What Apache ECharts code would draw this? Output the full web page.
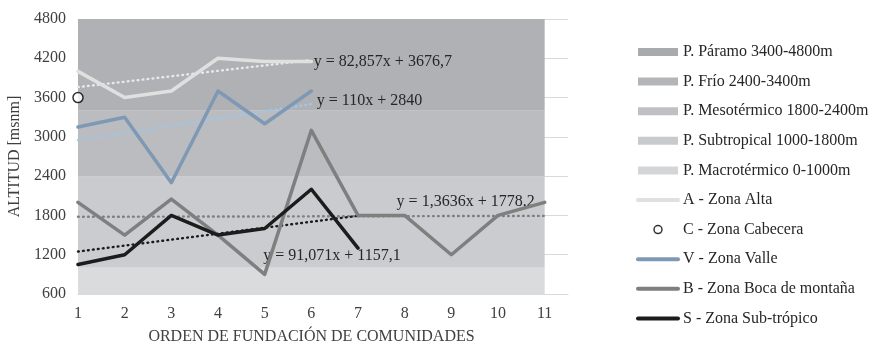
<!DOCTYPE html>
<html>
<head>
<meta charset="utf-8">
<script src="https://cdn.jsdelivr.net/npm/echarts@6/dist/echarts.min.js"></script>
<style>
  html, body { margin: 0; padding: 0; background: #ffffff; }
  #chart { width: 872px; height: 345px; }
</style>
</head>
<body>
<div id="chart"></div>
<script>
// Founding order of communities (x) vs altitude in m a.s.l. (y)
const orden = [1, 2, 3, 4, 5, 6, 7, 8, 9, 10, 11];

// Altitude of each community, by zone
const zonaAlta     = [4000, 3600, 3700, 4200, 4150, 4150];
const zonaCabecera = [3600];
const zonaValle    = [3150, 3300, 2300, 3700, 3200, 3700];
const zonaBoca     = [2000, 1500, 2050, 1500, 900, 3100, 1800, 1800, 1200, 1800, 2000];
const zonaSub      = [1050, 1200, 1800, 1500, 1600, 2200, 1300];

// Linear trend coefficients (slope, intercept) for each zone
const trendSlopes     = [82.857, 110, 1.3636, 91.071];
const trendIntercepts = [3676.7, 2840, 1778.2, 1157.1];

// Altitudinal floors (thermal belts)
const pisoNames = ['P. Páramo 3400-4800m', 'P. Frío 2400-3400m', 'P. Mesotérmico 1800-2400m',
                   'P. Subtropical 1000-1800m', 'P. Macrotérmico 0-1000m'];
const pisoLow   = [3400, 2400, 1800, 1000, 0];
const pisoHigh  = [4800, 3400, 2400, 1800, 1000];

const zoneNames = ['A - Zona Alta', 'C - Zona Cabecera', 'V - Zona Valle',
                   'B - Zona Boca de montaña', 'S - Zona Sub-trópico'];

// Y axis ticks
const yTicks = [600, 1200, 1800, 2400, 3000, 3600, 4200, 4800];

const FONT = '"Liberation Serif", "DejaVu Serif", serif';
const Y_MIN = yTicks[0], Y_MAX = yTicks[yTicks.length - 1];
const pisoColors = ['#b0b1b4', '#bbbcbf', '#cacbce', '#cbcccf', '#dadbdd'];
const pisoLegendColors = ['#a9aaad', '#b4b5b8', '#bfc0c3', '#c9cacc', '#d4d5d7'];

const toXY = (vals) => vals.map((v, i) => [orden[i], v]);
const fmt = (n) => String(n).replace('.', ',');
const eqText = (k) => 'y = ' + fmt(trendSlopes[k]) + 'x + ' + fmt(trendIntercepts[k]);
const trendLine = (k, x0, x1) => [
  [x0, trendSlopes[k] * x0 + trendIntercepts[k]],
  [x1, trendSlopes[k] * x1 + trendIntercepts[k]]
];

const series = [];

// Background belts drawn as mark areas spanning the community range
pisoNames.forEach((name, i) => {
  series.push({
    name: name,
    type: 'line',
    data: [],
    symbol: 'none',
    z: 1,
    itemStyle: { color: pisoLegendColors[i] },
    lineStyle: { width: 0 },
    markArea: {
      silent: true,
      itemStyle: { color: pisoColors[i], opacity: 1 },
      data: [[
        { xAxis: orden[0], yAxis: Math.max(pisoLow[i], Y_MIN) },
        { xAxis: orden[orden.length - 1], yAxis: pisoHigh[i] }
      ]]
    }
  });
});

// Trend lines (dotted) with their equations
const trendDefs = [
  { k: 0, x1: zonaAlta.length,  color: '#e9e9e9',
    label: { distance: 2.5, offset: [0, 1.5] } },
  { k: 1, x1: zonaValle.length, color: '#9fc6e8',
    label: { distance: 5.5, offset: [0, -3] } },
  { k: 2, x1: zonaBoca.length,  color: '#808080',
    label: { distance: 0, align: 'right', offset: [-10, -14] } },
  { k: 3, x1: zonaSub.length,   color: '#1a1a1a',
    label: { distance: 0, align: 'center', offset: [-26, 40] } }
];
trendDefs.forEach((t) => {
  series.push({
    name: 'trend' + t.k,
    type: 'line',
    data: trendLine(t.k, 1, t.x1),
    symbol: 'none',
    z: 3,
    silent: true,
    lineStyle: { color: t.color, width: 2.4, type: [0.8, 4.2], cap: 'round' },
    endLabel: Object.assign({
      show: true,
      formatter: () => eqText(t.k),
      color: '#262626',
      fontFamily: FONT,
      fontSize: 16
    }, t.label)
  });
});

// Zone series
const lineZone = (name, vals, color) => ({
  name: name,
  type: 'line',
  data: toXY(vals),
  symbol: 'none',
  z: 4,
  itemStyle: { color: color },
  lineStyle: { color: color, width: 3.5, cap: 'round', join: 'round' }
});
series.push(lineZone(zoneNames[0], zonaAlta, '#e0e0e0'));
series.push({
  name: zoneNames[1],
  type: 'scatter',
  data: toXY(zonaCabecera),
  symbol: 'circle',
  symbolSize: 10,
  z: 6,
  itemStyle: { color: '#ffffff', borderColor: '#000000', borderWidth: 1.5 }
});
series.push(lineZone(zoneNames[2], zonaValle, '#7f98b4'));
series.push(lineZone(zoneNames[3], zonaBoca, '#7f7f7f'));
series.push(lineZone(zoneNames[4], zonaSub, '#1c1c1c'));

// Legend: plain swatches for belts, bare lines for zones
const lineLegend = (name) => ({
  name: name,
  itemStyle: { opacity: 0 },
  lineStyle: { width: 4, cap: 'round' }
});
const legendData = pisoNames.map((n) => ({ name: n, icon: 'rect' }))
  .concat([
    lineLegend(zoneNames[0]),
    { name: zoneNames[1], icon: 'circle',
      itemStyle: { color: '#ffffff', borderColor: '#000000', borderWidth: 1.5 } },
    lineLegend(zoneNames[2]),
    lineLegend(zoneNames[3]),
    lineLegend(zoneNames[4])
  ]);

const chart = echarts.init(document.getElementById('chart'), null, { renderer: 'canvas' });
chart.setOption({
  animation: false,
  backgroundColor: '#ffffff',
  grid: { left: 78, right: 304, top: 19, bottom: 51, outerBoundsMode: 'none', containLabel: false },
  legend: {
    orient: 'vertical',
    left: 631,
    top: 39,
    itemWidth: 40,
    itemHeight: 8,
    itemGap: 13.6,
    selectedMode: false,
    data: legendData,
    textStyle: { fontFamily: FONT, fontSize: 16, color: '#262626', lineHeight: 16 }
  },
  xAxis: {
    type: 'value',
    min: orden[0],
    max: 11.5,
    interval: 1,
    name: 'ORDEN DE FUNDACIÓN DE COMUNIDADES',
    nameLocation: 'middle',
    nameGap: 35,
    nameTextStyle: { fontFamily: FONT, fontSize: 16, color: '#404040', padding: [0, 23, 0, 0] },
    axisLine: { show: true, lineStyle: { color: '#d9d9d9', width: 1 } },
    axisTick: { show: false },
    splitLine: { show: false },
    axisLabel: {
      margin: 12,
      fontFamily: FONT, fontSize: 16, color: '#404040',
      formatter: (v) => (orden.indexOf(v) >= 0 ? String(v) : '')
    }
  },
  yAxis: {
    type: 'value',
    min: Y_MIN,
    max: Y_MAX,
    interval: 600,
    name: 'ALTITUD [msnm]',
    nameLocation: 'middle',
    nameGap: 51,
    nameTextStyle: { fontFamily: FONT, fontSize: 16, color: '#404040' },
    axisLine: { show: false },
    axisTick: { show: false },
    splitLine: { show: true, lineStyle: { color: '#d9d9d9', width: 1 } },
    axisLabel: {
      margin: 12, fontFamily: FONT, fontSize: 16, color: '#404040',
      formatter: (v) => String(v)
    }
  },
  series: series
});
</script>
</body>
</html>
